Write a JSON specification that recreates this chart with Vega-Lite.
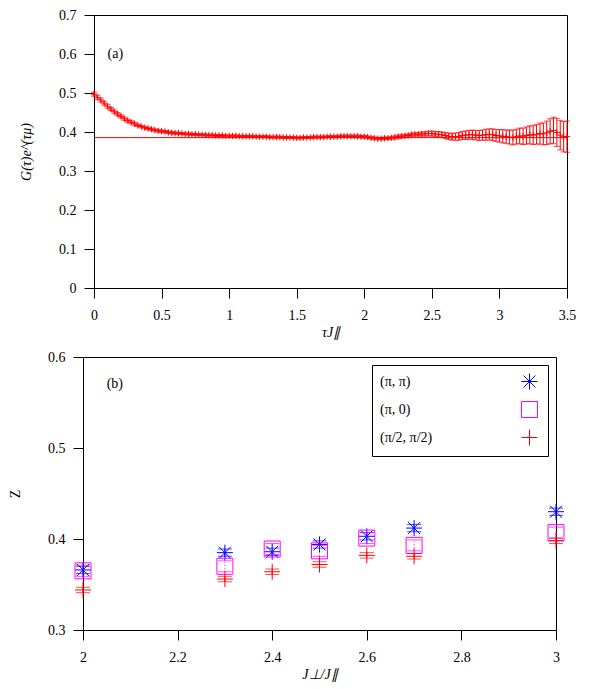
{
  "$schema": "https://vega.github.io/schema/vega-lite/v6.json",
  "padding": {"top": 7, "left": 0, "right": 0, "bottom": 3},
  "spacing": 9,
  "resolve": {"scale": {"color": "independent", "shape": "independent"}, "legend": {"color": "independent", "shape": "independent"}},
  "datasets": {
    "curve": [
      {"t":0,"g":0.497,"e":0.005},{"t":0.025,"g":0.489,"e":0.005},{"t":0.05,"g":0.482,"e":0.005},{"t":0.075,"g":0.474,"e":0.005},{"t":0.1,"g":0.466,"e":0.005},
      {"t":0.125,"g":0.459,"e":0.004},{"t":0.15,"g":0.452,"e":0.004},{"t":0.175,"g":0.446,"e":0.004},{"t":0.2,"g":0.44,"e":0.004},{"t":0.225,"g":0.434,"e":0.004},
      {"t":0.25,"g":0.429,"e":0.004},{"t":0.275,"g":0.425,"e":0.004},{"t":0.3,"g":0.421,"e":0.004},{"t":0.325,"g":0.417,"e":0.003},{"t":0.35,"g":0.414,"e":0.003},
      {"t":0.375,"g":0.411,"e":0.003},{"t":0.4,"g":0.409,"e":0.003},{"t":0.425,"g":0.407,"e":0.003},{"t":0.45,"g":0.405,"e":0.003},{"t":0.475,"g":0.403,"e":0.003},
      {"t":0.5,"g":0.402,"e":0.003},{"t":0.525,"g":0.401,"e":0.003},{"t":0.55,"g":0.399,"e":0.003},{"t":0.575,"g":0.398,"e":0.003},{"t":0.6,"g":0.397,"e":0.003},
      {"t":0.625,"g":0.397,"e":0.0025},{"t":0.65,"g":0.396,"e":0.0025},{"t":0.675,"g":0.395,"e":0.0025},{"t":0.7,"g":0.395,"e":0.0025},{"t":0.725,"g":0.394,"e":0.0025},
      {"t":0.75,"g":0.394,"e":0.0025},{"t":0.775,"g":0.393,"e":0.0025},{"t":0.8,"g":0.393,"e":0.0025},{"t":0.825,"g":0.392,"e":0.0025},{"t":0.85,"g":0.392,"e":0.0025},
      {"t":0.875,"g":0.392,"e":0.0025},{"t":0.9,"g":0.391,"e":0.0025},{"t":0.925,"g":0.391,"e":0.0025},{"t":0.95,"g":0.391,"e":0.0025},{"t":0.975,"g":0.39,"e":0.0025},
      {"t":1.0,"g":0.39,"e":0.0025},{"t":1.025,"g":0.39,"e":0.0025},{"t":1.05,"g":0.39,"e":0.0025},{"t":1.075,"g":0.389,"e":0.0025},{"t":1.1,"g":0.389,"e":0.0025},
      {"t":1.125,"g":0.389,"e":0.0025},{"t":1.15,"g":0.389,"e":0.0025},{"t":1.175,"g":0.389,"e":0.0025},{"t":1.2,"g":0.388,"e":0.0025},{"t":1.225,"g":0.388,"e":0.0025},
      {"t":1.25,"g":0.388,"e":0.0025},{"t":1.275,"g":0.388,"e":0.0025},{"t":1.3,"g":0.387,"e":0.0025},{"t":1.325,"g":0.387,"e":0.0025},{"t":1.35,"g":0.387,"e":0.0025},
      {"t":1.375,"g":0.387,"e":0.0025},{"t":1.4,"g":0.386,"e":0.0025},{"t":1.425,"g":0.386,"e":0.0025},{"t":1.45,"g":0.386,"e":0.0025},{"t":1.475,"g":0.386,"e":0.0025},
      {"t":1.5,"g":0.385,"e":0.0025},{"t":1.525,"g":0.385,"e":0.0025},{"t":1.55,"g":0.386,"e":0.0025},{"t":1.575,"g":0.386,"e":0.0025},{"t":1.6,"g":0.386,"e":0.0025},
      {"t":1.625,"g":0.387,"e":0.0025},{"t":1.65,"g":0.387,"e":0.0025},{"t":1.675,"g":0.387,"e":0.0025},{"t":1.7,"g":0.387,"e":0.0025},{"t":1.725,"g":0.388,"e":0.0025},
      {"t":1.75,"g":0.388,"e":0.0025},{"t":1.775,"g":0.388,"e":0.0025},{"t":1.8,"g":0.388,"e":0.0025},{"t":1.825,"g":0.389,"e":0.003},{"t":1.85,"g":0.389,"e":0.003},
      {"t":1.875,"g":0.389,"e":0.003},{"t":1.9,"g":0.389,"e":0.003},{"t":1.925,"g":0.389,"e":0.003},{"t":1.95,"g":0.389,"e":0.003},{"t":1.975,"g":0.388,"e":0.003},
      {"t":2.0,"g":0.388,"e":0.003},{"t":2.025,"g":0.387,"e":0.003},{"t":2.05,"g":0.385,"e":0.003},{"t":2.075,"g":0.384,"e":0.003},{"t":2.1,"g":0.383,"e":0.003},
      {"t":2.125,"g":0.383,"e":0.003},{"t":2.15,"g":0.384,"e":0.003},{"t":2.175,"g":0.384,"e":0.003},{"t":2.2,"g":0.385,"e":0.003},{"t":2.225,"g":0.386,"e":0.004},
      {"t":2.25,"g":0.388,"e":0.004},{"t":2.275,"g":0.389,"e":0.004},{"t":2.3,"g":0.39,"e":0.004},{"t":2.325,"g":0.391,"e":0.004},{"t":2.35,"g":0.393,"e":0.004},
      {"t":2.375,"g":0.394,"e":0.004},{"t":2.4,"g":0.394,"e":0.004},{"t":2.425,"g":0.395,"e":0.005},{"t":2.45,"g":0.395,"e":0.005},{"t":2.475,"g":0.396,"e":0.006},
      {"t":2.5,"g":0.396,"e":0.006},{"t":2.525,"g":0.395,"e":0.006},{"t":2.55,"g":0.394,"e":0.007},{"t":2.575,"g":0.393,"e":0.007},{"t":2.6,"g":0.391,"e":0.008},
      {"t":2.625,"g":0.389,"e":0.008},{"t":2.65,"g":0.388,"e":0.009},{"t":2.675,"g":0.388,"e":0.009},{"t":2.7,"g":0.389,"e":0.01},{"t":2.725,"g":0.391,"e":0.01},
      {"t":2.75,"g":0.392,"e":0.011},{"t":2.775,"g":0.393,"e":0.011},{"t":2.8,"g":0.393,"e":0.012},{"t":2.825,"g":0.392,"e":0.012},{"t":2.85,"g":0.391,"e":0.013},
      {"t":2.875,"g":0.392,"e":0.013},{"t":2.9,"g":0.393,"e":0.014},{"t":2.925,"g":0.394,"e":0.014},{"t":2.95,"g":0.393,"e":0.015},{"t":2.975,"g":0.391,"e":0.015},
      {"t":3.0,"g":0.39,"e":0.016},{"t":3.025,"g":0.389,"e":0.017},{"t":3.05,"g":0.388,"e":0.017},{"t":3.075,"g":0.387,"e":0.018},{"t":3.1,"g":0.386,"e":0.019},
      {"t":3.125,"g":0.388,"e":0.019},{"t":3.15,"g":0.39,"e":0.02},{"t":3.175,"g":0.389,"e":0.021},{"t":3.2,"g":0.391,"e":0.022},{"t":3.225,"g":0.393,"e":0.023},
      {"t":3.25,"g":0.392,"e":0.024},{"t":3.275,"g":0.394,"e":0.025},{"t":3.3,"g":0.396,"e":0.027},{"t":3.325,"g":0.395,"e":0.028},{"t":3.35,"g":0.398,"e":0.03},
      {"t":3.375,"g":0.402,"e":0.032},{"t":3.4,"g":0.404,"e":0.034},{"t":3.425,"g":0.399,"e":0.036},{"t":3.45,"g":0.392,"e":0.038},{"t":3.475,"g":0.388,"e":0.039},
      {"t":3.5,"g":0.388,"e":0.04}
    ],
    "zpts": [
      {"J":2.0,"z":0.366,"e":0.004,"k":"(π, π)"},
      {"J":2.3,"z":0.385,"e":0.004,"k":"(π, π)"},
      {"J":2.4,"z":0.386,"e":0.004,"k":"(π, π)"},
      {"J":2.5,"z":0.394,"e":0.004,"k":"(π, π)"},
      {"J":2.6,"z":0.403,"e":0.004,"k":"(π, π)"},
      {"J":2.7,"z":0.412,"e":0.004,"k":"(π, π)"},
      {"J":3.0,"z":0.43,"e":0.004,"k":"(π, π)"},
      {"J":2.0,"z":0.365,"e":0.006,"k":"(π, 0)"},
      {"J":2.3,"z":0.37,"e":0.006,"k":"(π, 0)"},
      {"J":2.4,"z":0.389,"e":0.006,"k":"(π, 0)"},
      {"J":2.5,"z":0.387,"e":0.006,"k":"(π, 0)"},
      {"J":2.6,"z":0.401,"e":0.006,"k":"(π, 0)"},
      {"J":2.7,"z":0.393,"e":0.006,"k":"(π, 0)"},
      {"J":3.0,"z":0.407,"e":0.006,"k":"(π, 0)"},
      {"J":2.0,"z":0.344,"e":0.003,"k":"(π/2, π/2)"},
      {"J":2.3,"z":0.356,"e":0.003,"k":"(π/2, π/2)"},
      {"J":2.4,"z":0.364,"e":0.003,"k":"(π/2, π/2)"},
      {"J":2.5,"z":0.372,"e":0.003,"k":"(π/2, π/2)"},
      {"J":2.6,"z":0.382,"e":0.003,"k":"(π/2, π/2)"},
      {"J":2.7,"z":0.381,"e":0.003,"k":"(π/2, π/2)"},
      {"J":3.0,"z":0.398,"e":0.003,"k":"(π/2, π/2)"}
    ]
  },
  "vconcat": [
    {
      "spacing": 0,
      "hconcat": [
        {
          "width": 15,
          "height": 10,
          "view": {"stroke": null, "fill": "white"},
          "data": {"values": [{"s": 1}]},
          "mark": {"type": "point", "opacity": 0}
        },
        {
          "width": 473,
          "height": 273,
          "layer": [
            {
              "data": {"name": "curve"},
              "mark": {"type": "errorbar", "ticks": {"size": 6, "color": "#ff0000"}, "color": "#ff0000", "thickness": 1},
              "encoding": {
                "x": {"field": "t", "type": "quantitative", "title": "τJ∥",
                      "scale": {"domain": [0, 3.5], "nice": false},
                      "axis": {"values": [0, 0.5, 1, 1.5, 2, 2.5, 3, 3.5], "format": "~g", "titlePadding": 3, "labelPadding": 10, "titleFontStyle": "italic"}},
                "y": {"field": "g", "type": "quantitative", "title": "G(τ)e^(τμ)",
                      "scale": {"domain": [0, 0.7], "nice": false},
                      "axis": {"values": [0, 0.1, 0.2, 0.3, 0.4, 0.5, 0.6, 0.7], "format": "~g", "titlePadding": 25.5, "titleFontStyle": "italic"}},
                "yError": {"field": "e"}
              }
            },
            {
              "data": {"name": "curve"},
              "mark": {"type": "point", "shape": "M-1,0H1M0,-1V1", "size": 40, "color": "#ff0000", "strokeWidth": 1, "filled": false, "opacity": 1},
              "encoding": {
                "x": {"field": "t", "type": "quantitative", "title": "τJ∥",
                      "scale": {"domain": [0, 3.5], "nice": false},
                      "axis": {"values": [0, 0.5, 1, 1.5, 2, 2.5, 3, 3.5], "format": "~g", "titlePadding": 3, "labelPadding": 10, "titleFontStyle": "italic"}},
                "y": {"field": "g", "type": "quantitative", "title": "G(τ)e^(τμ)",
                      "scale": {"domain": [0, 0.7], "nice": false},
                      "axis": {"values": [0, 0.1, 0.2, 0.3, 0.4, 0.5, 0.6, 0.7], "format": "~g", "titlePadding": 25.5, "titleFontStyle": "italic"}}
              }
            },
            {
              "data": {"values": [{"g": 0.3856}]},
              "mark": {"type": "rule", "color": "#ff0000", "strokeWidth": 1},
              "encoding": {
                "y": {"field": "g", "type": "quantitative", "title": "G(τ)e^(τμ)",
                      "scale": {"domain": [0, 0.7], "nice": false},
                      "axis": {"values": [0, 0.1, 0.2, 0.3, 0.4, 0.5, 0.6, 0.7], "format": "~g", "titlePadding": 25.5, "titleFontStyle": "italic"}}
              }
            },
            {
              "data": {"values": [{"t": 0.1, "g": 0.6, "label": "(a)"}]},
              "mark": {"type": "text", "align": "left", "baseline": "middle", "font": "Liberation Serif", "fontSize": 14, "color": "black"},
              "encoding": {
                "x": {"field": "t", "type": "quantitative", "title": "τJ∥",
                      "scale": {"domain": [0, 3.5], "nice": false},
                      "axis": {"values": [0, 0.5, 1, 1.5, 2, 2.5, 3, 3.5], "format": "~g", "titlePadding": 3, "labelPadding": 10, "titleFontStyle": "italic"}},
                "y": {"field": "g", "type": "quantitative", "title": "G(τ)e^(τμ)",
                      "scale": {"domain": [0, 0.7], "nice": false},
                      "axis": {"values": [0, 0.1, 0.2, 0.3, 0.4, 0.5, 0.6, 0.7], "format": "~g", "titlePadding": 25.5, "titleFontStyle": "italic"}},
                "text": {"field": "label"}
              }
            }
          ]
        }
      ]
    },
    {
      "spacing": 0,
      "resolve": {"scale": {"color": "independent", "shape": "independent"}, "legend": {"color": "independent", "shape": "independent"}},
      "hconcat": [
        {
          "width": 1,
          "height": 10,
          "view": {"stroke": null, "fill": "white"},
          "data": {"values": [{"s": 1}]},
          "mark": {"type": "point", "opacity": 0}
        },
        {
          "width": 473,
          "height": 273,
          "layer": [
            {
              "data": {"name": "zpts"},
              "mark": {"type": "point", "size": 256, "strokeWidth": 1, "filled": false, "opacity": 1},
              "encoding": {
                "x": {"field": "J", "type": "quantitative", "title": "J⊥/J∥",
                      "scale": {"domain": [2, 3], "nice": false, "zero": false},
                      "axis": {"values": [2, 2.2, 2.4, 2.6, 2.8, 3], "format": "~g", "titlePadding": 3, "labelPadding": 10, "titleFontStyle": "italic"}},
                "y": {"field": "z", "type": "quantitative", "title": "Z",
                      "scale": {"domain": [0.3, 0.6], "nice": false, "zero": false},
                      "axis": {"values": [0.3, 0.4, 0.5, 0.6], "format": "~g", "titlePadding": 25.5}},
                "color": {"field": "k", "type": "nominal", "title": null,
                          "scale": {"domain": ["(π, π)", "(π, 0)", "(π/2, π/2)"], "range": ["#0000ff", "#ff00ff", "#ff0000"]},
                          "legend": {"orient": "top-right", "offset": 8, "title": null, "strokeColor": "black", "padding": 8,
                                     "labelFont": "Liberation Serif", "labelFontSize": 14, "labelColor": "black", "symbolSize": 256, "symbolStrokeWidth": 1,
                                     "rowPadding": 7, "symbolOffset": 141, "labelOffset": -158, "fillColor": "white",
                                     "encode": {"legend": {"update": {"strokeDash": {"value": [1, 2]}}}}}},
                "shape": {"field": "k", "type": "nominal", "title": null,
                          "scale": {"domain": ["(π, π)", "(π, 0)", "(π/2, π/2)"],
                                    "range": ["M-1,0H1M0,-1V1M-0.75,-0.75L0.75,0.75M-0.75,0.75L0.75,-0.75", "square", "M-1,0H1M0,-1V1"]},
                          "legend": {"orient": "top-right", "offset": 8, "title": null, "strokeColor": "black", "padding": 8,
                                     "labelFont": "Liberation Serif", "labelFontSize": 14, "labelColor": "black", "symbolSize": 256, "symbolStrokeWidth": 1,
                                     "rowPadding": 7, "symbolOffset": 141, "labelOffset": -158, "fillColor": "white",
                                     "encode": {"legend": {"update": {"strokeDash": {"value": [1, 2]}}}}}}
              }
            },
            {
              "data": {"name": "zpts"},
              "transform": [{"filter": "datum.k === '(π, π)'"}],
              "mark": {"type": "errorbar", "ticks": {"size": 14, "strokeDash": [3, 2]}, "rule": {"strokeDash": [3, 2]}, "color": "#0000ff", "thickness": 1},
              "encoding": {
                "x": {"field": "J", "type": "quantitative", "title": "J⊥/J∥"},
                "y": {"field": "z", "type": "quantitative", "title": "Z"},
                "yError": {"field": "e"}
              }
            },
            {
              "data": {"name": "zpts"},
              "transform": [{"filter": "datum.k === '(π, 0)'"}],
              "mark": {"type": "errorbar", "ticks": {"size": 14, "strokeDash": [1, 2]}, "rule": {"strokeDash": [1, 2]}, "color": "#ff00ff", "thickness": 1},
              "encoding": {
                "x": {"field": "J", "type": "quantitative", "title": "J⊥/J∥"},
                "y": {"field": "z", "type": "quantitative", "title": "Z"},
                "yError": {"field": "e"}
              }
            },
            {
              "data": {"name": "zpts"},
              "transform": [{"filter": "datum.k === '(π/2, π/2)'"}],
              "mark": {"type": "errorbar", "ticks": {"size": 14}, "color": "#ff0000", "thickness": 1},
              "encoding": {
                "x": {"field": "J", "type": "quantitative", "title": "J⊥/J∥"},
                "y": {"field": "z", "type": "quantitative", "title": "Z"},
                "yError": {"field": "e"}
              }
            },
            {
              "data": {"values": [{"J": 2.05, "z": 0.57, "label": "(b)"}]},
              "mark": {"type": "text", "align": "left", "baseline": "middle", "font": "Liberation Serif", "fontSize": 14, "color": "black"},
              "encoding": {
                "x": {"field": "J", "type": "quantitative", "title": "J⊥/J∥"},
                "y": {"field": "z", "type": "quantitative", "title": "Z"},
                "text": {"field": "label"}
              }
            }
          ]
        }
      ]
    }
  ],
  "config": {
    "view": {"stroke": "black", "strokeWidth": 1},
    "font": "Liberation Serif",
    "axis": {"grid": false, "domainColor": "black", "tickColor": "black", "tickSize": 10, "tickWidth": 1, "domainWidth": 1,
             "labelFont": "Liberation Serif", "labelFontSize": 14, "labelColor": "black", "labelPadding": 8, "labelFlush": false, "labelOverlap": false,
             "titleFont": "Liberation Serif", "titleFontSize": 14, "titleFontWeight": "normal", "titleColor": "black"}
  }
}
